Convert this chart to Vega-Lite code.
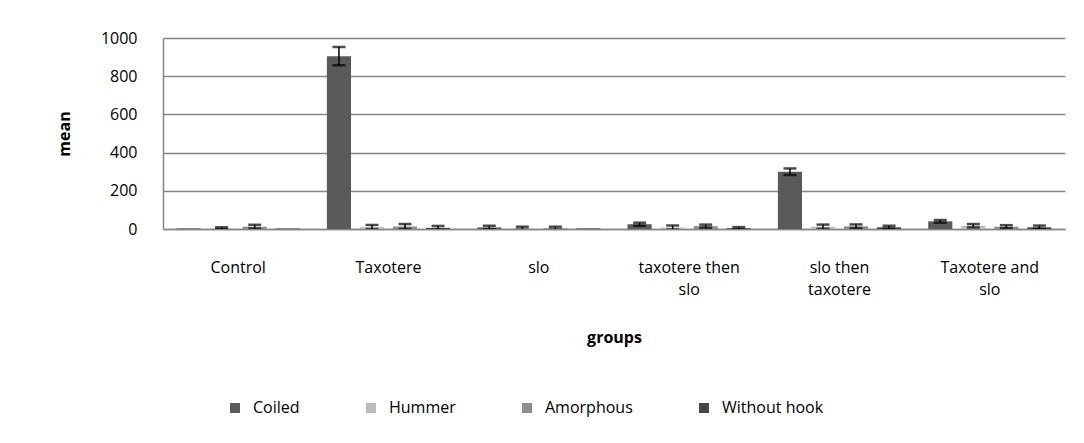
{
  "$schema": "https://vega.github.io/schema/vega-lite/v6.json",
  "width": 902,
  "height": 191,
  "autosize": {"type": "none"},
  "padding": {"left": 163, "top": 38, "right": 19, "bottom": 214},
  "background": "white",
  "config": {
    "font": "Open Sans",
    "view": {"stroke": null},
    "axis": {"labelFont": "Open Sans", "titleFont": "Open Sans", "labelColor": "#000000", "titleColor": "#000000"},
    "axisY": {
      "titleFontSize": 16,
      "titleFontWeight": "bold",
      "titlePadding": 28,
      "tickCount": 5,
      "format": "d",
      "labelFontSize": 16,
      "labelPadding": 26,
      "ticks": false,
      "grid": true,
      "gridColor": "#868686",
      "gridWidth": 1.5,
      "domain": true,
      "domainColor": "#868686",
      "domainWidth": 1.5
    }
  },
  "data": {
    "values": [
      {"group": "Control", "type": "Coiled", "mean": 3, "lo": null, "hi": null},
      {"group": "Control", "type": "Hummer", "mean": 4, "lo": -1, "hi": 9},
      {"group": "Control", "type": "Amorphous", "mean": 12, "lo": 2, "hi": 22},
      {"group": "Control", "type": "Without hook", "mean": 3, "lo": null, "hi": null},
      {"group": "Taxotere", "type": "Coiled", "mean": 905, "lo": 857, "hi": 953},
      {"group": "Taxotere", "type": "Hummer", "mean": 10, "lo": -1, "hi": 21},
      {"group": "Taxotere", "type": "Amorphous", "mean": 13, "lo": 0, "hi": 26},
      {"group": "Taxotere", "type": "Without hook", "mean": 6, "lo": -4, "hi": 16},
      {"group": "slo", "type": "Coiled", "mean": 8, "lo": -1, "hi": 17},
      {"group": "slo", "type": "Hummer", "mean": 4, "lo": -4, "hi": 12},
      {"group": "slo", "type": "Amorphous", "mean": 4, "lo": -4, "hi": 12},
      {"group": "slo", "type": "Without hook", "mean": 3, "lo": null, "hi": null},
      {"group": "taxotere then slo", "type": "Coiled", "mean": 25, "lo": 17, "hi": 33},
      {"group": "taxotere then slo", "type": "Hummer", "mean": 8, "lo": -2, "hi": 18},
      {"group": "taxotere then slo", "type": "Amorphous", "mean": 15, "lo": 7, "hi": 23},
      {"group": "taxotere then slo", "type": "Without hook", "mean": 4, "lo": -2, "hi": 10},
      {"group": "slo then taxotere", "type": "Coiled", "mean": 300, "lo": 283, "hi": 317},
      {"group": "slo then taxotere", "type": "Hummer", "mean": 12, "lo": 1, "hi": 23},
      {"group": "slo then taxotere", "type": "Amorphous", "mean": 14, "lo": 4, "hi": 24},
      {"group": "slo then taxotere", "type": "Without hook", "mean": 9, "lo": 1, "hi": 17},
      {"group": "Taxotere and slo", "type": "Coiled", "mean": 40, "lo": 33, "hi": 47},
      {"group": "Taxotere and slo", "type": "Hummer", "mean": 17, "lo": 8, "hi": 26},
      {"group": "Taxotere and slo", "type": "Amorphous", "mean": 12, "lo": 4, "hi": 20},
      {"group": "Taxotere and slo", "type": "Without hook", "mean": 9, "lo": 0, "hi": 18}
    ]
  },
  "encoding": {
    "x": {
      "field": "group",
      "type": "nominal",
      "sort": ["Control", "Taxotere", "slo", "taxotere then slo", "slo then taxotere", "Taxotere and slo"],
      "scale": {"paddingInner": 0, "paddingOuter": 0},
      "axis": {
        "title": "groups",
        "titleFontSize": 16,
        "titleFontWeight": "bold",
        "titlePadding": 32,
        "labelAngle": 0,
        "labelFontSize": 16,
        "labelLineHeight": 22,
        "labelPadding": 30,
        "labelBaseline": "top",
        "labelExpr": "datum.label == 'taxotere then slo' ? ['taxotere then', 'slo'] : datum.label == 'slo then taxotere' ? ['slo then', 'taxotere'] : datum.label == 'Taxotere and slo' ? ['Taxotere and', 'slo'] : datum.label",
        "ticks": false,
        "grid": false,
        "domainColor": "#868686",
        "domainWidth": 1.5
      }
    },
    "xOffset": {
      "field": "type",
      "type": "nominal",
      "sort": ["Coiled", "Hummer", "Amorphous", "Without hook"],
      "scale": {"paddingInner": 0.27, "paddingOuter": 0.41}
    }
  },
  "layer": [
    {
      "mark": {"type": "bar"},
      "encoding": {
        "y": {
          "field": "mean",
          "type": "quantitative",
          "title": "mean",
          "scale": {"domain": [0, 1000], "nice": false}
        },
        "color": {
          "field": "type",
          "type": "nominal",
          "sort": ["Coiled", "Hummer", "Amorphous", "Without hook"],
          "scale": {
            "domain": ["Coiled", "Hummer", "Amorphous", "Without hook"],
            "range": ["#5a5a5a", "#bcbcbc", "#8e8e8e", "#454545"]
          },
          "legend": {
            "title": null,
            "orient": "none",
            "direction": "horizontal",
            "legendX": 64,
            "legendY": 362,
            "symbolType": "square",
            "symbolSize": 100,
            "symbolStrokeWidth": 0,
            "labelFontSize": 16,
            "labelColor": "#000000",
            "labelFont": "Open Sans",
            "labelOffset": 10,
            "columnPadding": 63
          }
        }
      }
    },
    {
      "mark": {"type": "rule", "color": "#000000", "strokeWidth": 1.5, "clip": true},
      "encoding": {
        "y": {"field": "lo", "type": "quantitative", "title": "mean"},
        "y2": {"field": "hi"}
      }
    },
    {
      "mark": {"type": "tick", "orient": "horizontal", "color": "#000000", "size": 13, "thickness": 2.5, "clip": true},
      "encoding": {
        "y": {"field": "hi", "type": "quantitative", "title": "mean"}
      }
    },
    {
      "mark": {"type": "tick", "orient": "horizontal", "color": "#000000", "size": 13, "thickness": 2.5, "clip": true},
      "encoding": {
        "y": {"field": "lo", "type": "quantitative", "title": "mean"}
      }
    }
  ]
}
